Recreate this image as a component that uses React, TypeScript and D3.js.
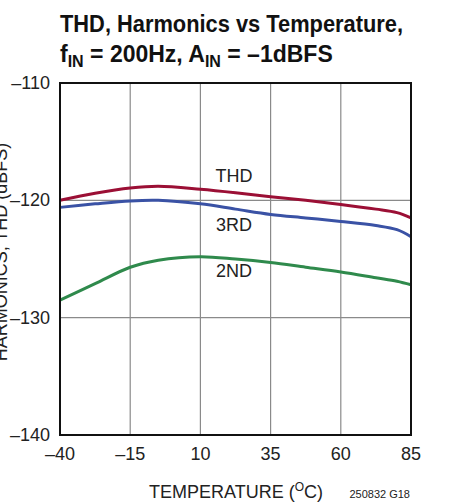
import React, { useEffect, useRef } from "react";
import * as d3 from "d3";

const W = 467;
const H = 504;

const temps = [-40, -27.5, -15, -5, 10, 22.5, 35, 47.5, 60, 72.5, 80, 85];
const thd = [-120.0, -119.4, -118.95, -118.8, -119.05, -119.35, -119.7, -120.0, -120.35, -120.75, -121.05, -121.5];
const third = [-120.6, -120.3, -120.05, -120.0, -120.3, -120.75, -121.2, -121.5, -121.8, -122.15, -122.5, -123.1];
const second = [-128.5, -127.1, -125.7, -125.1, -124.8, -125.0, -125.3, -125.7, -126.1, -126.6, -126.9, -127.2];

const xTicks = [-40, -15, 10, 35, 60, 85];
const yTicks = [-110, -120, -130, -140];

const seriesNames = ["THD", "3RD", "2ND"];
const seriesColors = ["#9b0f35", "#3a52a5", "#2f8a4c"];
// label positions in data units
const labelTemps = [22, 22, 22];
const labelVals = [-118.4, -122.6, -126.5];

const FONT = "'Liberation Sans Narrow', 'Arial Narrow', 'Liberation Sans', Arial, sans-serif";

const App = () => {
  const svgRef = useRef<SVGSVGElement>(null);

  useEffect(() => {
    if (!svgRef.current) return;
    const margin = { top: 83, right: 56, bottom: 69, left: 60 };
    const width = W - margin.left - margin.right;
    const height = H - margin.top - margin.bottom;

    const x = d3.scaleLinear().domain([-40, 85]).range([0, width]);
    const y = d3.scaleLinear().domain([-140, -110]).range([height, 0]);

    const root = d3.select(svgRef.current);
    root.selectAll("*").remove();
    root.attr("width", W).attr("height", H);

    // title
    root
      .append("text")
      .attr("x", 60)
      .attr("y", 32)
      .attr("textLength", 343)
      .attr("lengthAdjust", "spacingAndGlyphs")
      .style("font-family", FONT)
      .style("font-weight", "bold")
      .style("font-size", "23px")
      .style("fill", "#111")
      .text("THD, Harmonics vs Temperature,");
    const l2 = root
      .append("text")
      .attr("x", 60)
      .attr("y", 62)
      .style("font-family", FONT)
      .style("font-weight", "bold")
      .style("font-size", "23px")
      .style("fill", "#111");
    l2.append("tspan").text("f");
    l2.append("tspan").attr("dy", 5).style("font-size", "16px").text("IN");
    l2.append("tspan").attr("dy", -5).text(" = 200Hz, A");
    l2.append("tspan").attr("dy", 5).style("font-size", "16px").text("IN");
    l2.append("tspan").attr("dy", -5).text(" = \u20131dBFS");

    const g = root.append("g").attr("transform", `translate(${margin.left},${margin.top})`);

    // grid
    g.selectAll(".gx")
      .data(xTicks.slice(1, -1))
      .enter()
      .append("line")
      .attr("x1", (d) => x(d))
      .attr("x2", (d) => x(d))
      .attr("y1", 0)
      .attr("y2", height)
      .attr("stroke", "#8a8a8a")
      .attr("stroke-width", 1.2);
    g.selectAll(".gy")
      .data(yTicks.slice(1, -1))
      .enter()
      .append("line")
      .attr("x1", 0)
      .attr("x2", width)
      .attr("y1", (d) => y(d))
      .attr("y2", (d) => y(d))
      .attr("stroke", "#8a8a8a")
      .attr("stroke-width", 1.2);

    // lines
    const allSeries = [thd, third, second];
    const line = d3
      .line<number>()
      .x((_, i) => x(temps[i]))
      .y((d) => y(d))
      .curve(d3.curveCatmullRom.alpha(0.5));
    allSeries.forEach((s, i) => {
      g.append("path")
        .attr("d", line(s))
        .attr("fill", "none")
        .attr("stroke", seriesColors[i])
        .attr("stroke-width", 3);
    });

    // series labels
    seriesNames.forEach((n, i) => {
      g.append("text")
        .attr("x", x(labelTemps[i]))
        .attr("y", y(labelVals[i]))
        .attr("text-anchor", "middle")
        .style("font-family", FONT)
        .style("font-size", "18px")
        .style("fill", "#222")
        .text(n);
    });

    // frame
    g.append("rect")
      .attr("x", 0)
      .attr("y", 0)
      .attr("width", width)
      .attr("height", height)
      .attr("fill", "none")
      .attr("stroke", "#111")
      .attr("stroke-width", 2);

    // tick labels
    g.selectAll(".xt")
      .data(xTicks)
      .enter()
      .append("text")
      .attr("x", (d) => x(d))
      .attr("y", height + 25)
      .attr("text-anchor", "middle")
      .style("font-family", FONT)
      .style("font-size", "18px")
      .style("fill", "#222")
      .text((d) => (d < 0 ? "\u2013" + Math.abs(d) : String(d)));
    g.selectAll(".yt")
      .data(yTicks)
      .enter()
      .append("text")
      .attr("x", -10)
      .attr("y", (d) => y(d) + 6)
      .attr("text-anchor", "end")
      .style("font-family", FONT)
      .style("font-size", "18px")
      .style("fill", "#222")
      .text((d) => "\u2013" + Math.abs(d));

    // axis titles
    const xt = root
      .append("text")
      .attr("x", 236)
      .attr("y", 498)
      .attr("text-anchor", "middle")
      .style("font-family", FONT)
      .style("font-size", "18px")
      .style("fill", "#222");
    xt.append("tspan").text("TEMPERATURE (");
    xt.append("tspan").attr("dy", -7).style("font-size", "12px").text("O");
    xt.append("tspan").attr("dy", 7).text("C)");

    root
      .append("text")
      .attr("transform", "translate(7,252) rotate(-90)")
      .attr("text-anchor", "middle")
      .style("font-family", FONT)
      .style("font-size", "18px")
      .style("fill", "#222")
      .text("HARMONICS, THD (dBFS)");

    root
      .append("text")
      .attr("x", 410)
      .attr("y", 498)
      .attr("text-anchor", "end")
      .style("font-family", FONT)
      .style("font-size", "11px")
      .style("fill", "#222")
      .text("250832 G18");
  }, []);

  return (
    <svg
      ref={svgRef}
      style={{ position: "absolute", left: 0, top: 0, background: "#fff" }}
    ></svg>
  );
};

export default App;
